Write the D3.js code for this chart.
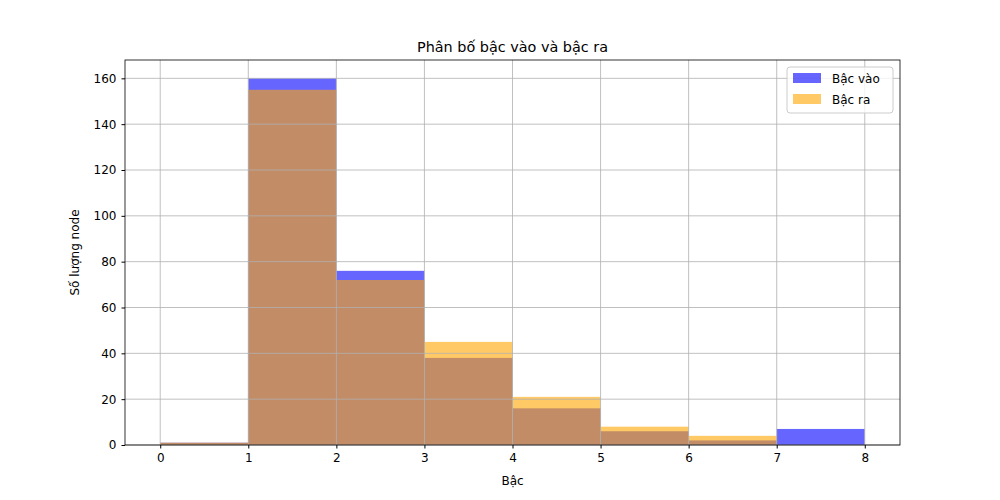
<!DOCTYPE html><html><head><meta charset="utf-8"><script src="https://cdn.jsdelivr.net/npm/d3@7"></script>
<style>body{margin:0;background:#fff}text{font-family:"DejaVu Sans",sans-serif}</style></head><body><svg id="c" width="1000" height="500"></svg><script>
const binStarts=[0,1,2,3,4,5,6,7];
const inDegree=[1,160,76,38,16,6,2,7];
const outDegree=[1,155,72,45,21,8,4,0];
const xTicks=[0,1,2,3,4,5,6,7,8];
const yTicks=[0,20,40,60,80,100,120,140,160];
const svg=d3.select("#c");
const L=125,R=900,T=60,B=445;
const x=d3.scaleLinear().domain([-0.4,8.4]).range([L,R]);
const y=d3.scaleLinear().domain([0,168]).range([B,T]);
function bars(vals,col){svg.append("g").selectAll("rect").data(binStarts).join("rect")
 .attr("x",d=>x(d)).attr("width",d=>x(d+1)-x(d)).attr("y",(d,i)=>y(vals[i])).attr("height",(d,i)=>B-y(vals[i]))
 .attr("fill",col).attr("fill-opacity",0.6);}
bars(inDegree,"#0000ff");bars(outDegree,"#ffa500");
const g=svg.append("g");
xTicks.forEach(t=>g.append("line").attr("x1",x(t)).attr("x2",x(t)).attr("y1",T).attr("y2",B).attr("stroke","#b0b0b0").attr("stroke-width",0.8));
yTicks.forEach(t=>g.append("line").attr("x1",L).attr("x2",R).attr("y1",y(t)).attr("y2",y(t)).attr("stroke","#b0b0b0").attr("stroke-width",0.8));
const xa=svg.append("g").attr("transform",`translate(0,${B})`).call(d3.axisBottom(x).tickValues(xTicks).tickSize(3.5).tickPadding(5).tickFormat(d3.format("d")));
const ya=svg.append("g").attr("transform",`translate(${L},0)`).call(d3.axisLeft(y).tickValues(yTicks).tickSize(3.5).tickPadding(5).tickFormat(d3.format("d")));
[xa,ya].forEach(a=>{a.select(".domain").remove();a.selectAll("text").attr("font-size",12).attr("fill","#000").style("font-family","DejaVu Sans");a.selectAll("line").attr("stroke","#000");});
svg.append("rect").attr("x",L).attr("y",T).attr("width",R-L).attr("height",B-T).attr("fill","none").attr("stroke","#000").attr("stroke-width",0.8);
svg.append("text").attr("x",(L+R)/2).attr("y",52).attr("text-anchor","middle").attr("font-size",14.4).text("Phân bố bậc vào và bậc ra");
svg.append("text").attr("x",(L+R)/2).attr("y",485).attr("text-anchor","middle").attr("font-size",12).text("Bậc");
svg.append("text").attr("transform",`translate(79,${(T+B)/2}) rotate(-90)`).attr("text-anchor","middle").attr("font-size",12).text("Số lượng node");
const lg=svg.append("g");
lg.append("rect").attr("x",787).attr("y",67).attr("width",106).attr("height",46).attr("rx",3).attr("fill","#fff").attr("fill-opacity",0.8).attr("stroke","#ccc");
[["Bậc vào","#0000ff"],["Bậc ra","#ffa500"]].forEach((d,i)=>{
 lg.append("rect").attr("x",793).attr("y",73+i*21).attr("width",28).attr("height",10).attr("fill",d[1]).attr("fill-opacity",0.6);
 lg.append("text").attr("x",832).attr("y",83+i*21).attr("font-size",12).text(d[0]);});
</script></body></html>
